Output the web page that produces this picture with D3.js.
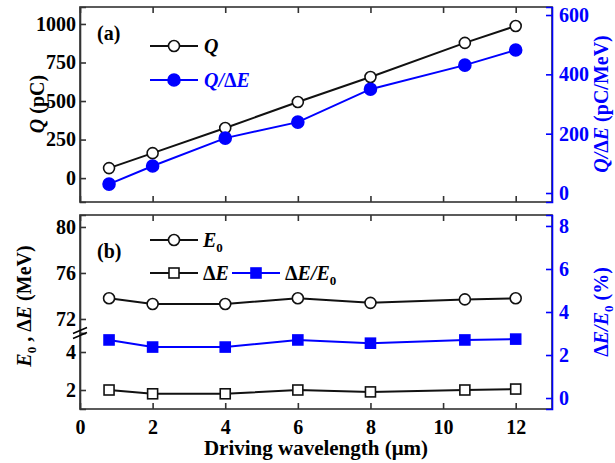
<!DOCTYPE html>
<html>
<head>
<meta charset="utf-8">
<script src="https://cdn.jsdelivr.net/npm/d3@7"></script>
<style>
    body { margin: 0; background: #fff; }
    svg { display: block; }
</style>
</head>
<body>
<div id="chart"></div>
<script>
// chart data
var wavelength = [0.8, 2, 4, 6, 8, 10.6, 12];
var charge = [65, 162, 325, 494, 656, 877, 987];
var chargePerSpread = [30, 91, 185, 239, 350, 431, 482];
var peakEnergy = [73.8, 73.3, 73.3, 73.8, 73.4, 73.7, 73.8];
var energySpread = [2.0, 1.8, 1.8, 2.0, 1.9, 2.0, 2.05];
var relativeSpread = [2.7, 2.37, 2.37, 2.7, 2.55, 2.7, 2.74];

var xTicks = [0, 2, 4, 6, 8, 10, 12];
var chargeTicks = [0, 250, 500, 750, 1000];
var chargePerSpreadTicks = [0, 200, 400, 600];
var energyUpperTicks = [72, 76, 80];
var energyLowerTicks = [2, 4];
var relativeTicks = [0, 2, 4, 6, 8];

var app = app || {};

app.Chart = (function () {
    'use strict';

    var colors = {
        black: "#111",
        frame: "#333",
        blue: "#0000ff"
    };

    var font = "'Liberation Serif', 'Times New Roman', serif";
    var fmt = d3.format("d");

    var init = function (baseElement) {
        var config = configure(d3.select(baseElement));
        topPanel(config);
        bottomPanel(config);
        labels(config);
        return config;
    };

    var configure = function (base) {
        var svg = base.append("svg")
            .attr("width", 615)
            .attr("height", 463);

        var m = { left: 80, right: 552 };
        var top = { y0: 7, y1: 202 };
        var bottom = { y0: 215, y1: 409, brk: 333 };

        var x = d3.scaleLinear().domain([0, 13]).range([m.left, m.right]);

        return {
            svg: svg,
            m: m,
            top: top,
            bottom: bottom,
            x: x,
            yQ: d3.scaleLinear().domain([-155, 1110]).range([top.y1, top.y0]),
            yQd: d3.scaleLinear().domain([-30.3, 627]).range([top.y1, top.y0]),
            yEUp: d3.scaleLinear().domain([70.78, 81.04]).range([bottom.brk, bottom.y0]),
            yELow: d3.scaleLinear().domain([1, 5]).range([bottom.y1, bottom.brk]),
            yRel: d3.scaleLinear().domain([-0.51, 8.51]).range([bottom.y1, bottom.y0])
        };
    };

    var styleAxis = function (g, color) {
        g.selectAll("path, line").attr("stroke", color).attr("stroke-width", 1.6);
        g.selectAll("text")
            .attr("fill", color)
            .style("font-family", font)
            .style("font-weight", "bold")
            .style("font-size", "20px");
    };

    var frameAxes = function (config, panel, withLabels) {
        var svg = config.svg, x = config.x;

        // top edge, ticks pointing down
        svg.append("g")
            .attr("transform", "translate(0," + panel.y0 + ")")
            .call(d3.axisTop(x).tickValues(xTicks).tickSize(-6).tickFormat(""))
            .call(styleAxis, colors.frame)
            .select(".domain").remove();

        // bottom edge, ticks pointing up
        var bottomAxis = svg.append("g")
            .attr("transform", "translate(0," + panel.y1 + ")")
            .call(d3.axisBottom(x).tickValues(xTicks).tickSize(-6).tickPadding(11)
                .tickFormat(withLabels ? fmt : ""))
            .call(styleAxis, colors.frame);
        bottomAxis.selectAll("text").attr("fill", "#000");
        bottomAxis.select(".domain").remove();

        // outline
        svg.append("rect")
            .attr("x", config.m.left)
            .attr("y", panel.y0)
            .attr("width", config.m.right - config.m.left)
            .attr("height", panel.y1 - panel.y0)
            .attr("fill", "none")
            .attr("stroke", colors.frame)
            .attr("stroke-width", 1.6);
    };

    var series = function (config, values, y, color, shape, filled) {
        var g = config.svg.append("g");
        var data = wavelength.map(function (w, i) {
            return { x: w, y: values[i] };
        });
        var line = d3.line()
            .x(function (d) { return config.x(d.x); })
            .y(function (d) { return y(d.y); });

        g.append("path")
            .datum(data)
            .attr("d", line)
            .attr("fill", "none")
            .attr("stroke", color)
            .attr("stroke-width", 2);

        marks(g, data.map(function (d) {
            return { cx: config.x(d.x), cy: y(d.y) };
        }), color, shape, filled);
    };

    var marks = function (g, points, color, shape, filled) {
        if (shape === "circle") {
            g.selectAll("circle.mark")
                .data(points)
                .enter()
                .append("circle")
                .attr("class", "mark")
                .attr("cx", function (d) { return d.cx; })
                .attr("cy", function (d) { return d.cy; })
                .attr("r", filled ? 6 : 5.5)
                .attr("fill", filled ? color : "#fff")
                .attr("stroke", color)
                .attr("stroke-width", 1.6);
        } else {
            var s = 10;
            g.selectAll("rect.mark")
                .data(points)
                .enter()
                .append("rect")
                .attr("class", "mark")
                .attr("x", function (d) { return d.cx - s / 2; })
                .attr("y", function (d) { return d.cy - s / 2; })
                .attr("width", s)
                .attr("height", s)
                .attr("fill", filled ? color : "#fff")
                .attr("stroke", color)
                .attr("stroke-width", 1.6);
        }
    };

    var legendItem = function (config, x0, x1, y, color, shape, filled) {
        var g = config.svg.append("g");
        g.append("line")
            .attr("x1", x0).attr("x2", x1)
            .attr("y1", y).attr("y2", y)
            .attr("stroke", color)
            .attr("stroke-width", 2);
        marks(g, [{ cx: (x0 + x1) / 2, cy: y }], color, shape, filled);
    };

    // text made of pieces: [string, italic, subscript, rise back]
    var richText = function (config, x, y, parts, color, anchor, rotate, size) {
        var t = config.svg.append("text")
            .attr("fill", color)
            .style("font-family", font)
            .style("font-weight", "bold")
            .style("font-size", (size || 20) + "px")
            .attr("text-anchor", anchor || "start");
        if (rotate) {
            t.attr("transform", "translate(" + x + "," + y + ") rotate(-90)");
        } else {
            t.attr("x", x).attr("y", y);
        }
        parts.forEach(function (p) {
            var span = t.append("tspan").text(p[0]);
            if (p[1]) { span.style("font-style", "italic"); }
            if (p[2]) {
                span.style("font-size", "13px").attr("dy", "5");
            } else if (p[3]) {
                span.attr("dy", "-5");
            }
        });
        return t;
    };

    var topPanel = function (config) {
        var svg = config.svg;
        frameAxes(config, config.top, false);

        svg.append("g")
            .attr("transform", "translate(" + config.m.left + ",0)")
            .call(d3.axisLeft(config.yQ).tickValues(chargeTicks).tickSize(-6).tickPadding(4).tickFormat(fmt))
            .call(styleAxis, "#000")
            .call(function (g) {
                g.select(".domain").attr("stroke", colors.frame);
                g.selectAll("line").attr("stroke", colors.frame);
            });

        svg.append("g")
            .attr("transform", "translate(" + config.m.right + ",0)")
            .call(d3.axisRight(config.yQd).tickValues(chargePerSpreadTicks).tickSize(-6).tickPadding(7).tickFormat(fmt))
            .call(styleAxis, colors.blue);

        series(config, charge, config.yQ, colors.black, "circle", false);
        series(config, chargePerSpread, config.yQd, colors.blue, "circle", true);

        legendItem(config, 150, 198, 46, colors.black, "circle", false);
        richText(config, 204, 53, [["Q", true]], "#000");
        legendItem(config, 150, 198, 80, colors.blue, "circle", true);
        richText(config, 204, 87, [["Q/", true], ["\u0394", false], ["E", true]], colors.blue);

        richText(config, 97, 40, [["(a)", false]], "#000");
    };

    var bottomPanel = function (config) {
        var svg = config.svg, b = config.bottom;
        frameAxes(config, b, true);

        // broken left axis: two pieces
        var up = svg.append("g")
            .attr("transform", "translate(" + config.m.left + ",0)")
            .call(d3.axisLeft(config.yEUp).tickValues(energyUpperTicks).tickSize(-6).tickPadding(4).tickFormat(fmt))
            .call(styleAxis, "#000");
        up.selectAll("line, path").attr("stroke", colors.frame);

        var low = svg.append("g")
            .attr("transform", "translate(" + config.m.left + ",0)")
            .call(d3.axisLeft(config.yELow).tickValues(energyLowerTicks).tickSize(-6).tickPadding(4).tickFormat(fmt))
            .call(styleAxis, "#000");
        low.selectAll("line, path").attr("stroke", colors.frame);

        // break marks
        [-2.5, 2.5].forEach(function (off) {
            svg.append("line")
                .attr("x1", config.m.left - 7).attr("y1", b.brk + off + 3)
                .attr("x2", config.m.left + 7).attr("y2", b.brk + off - 3)
                .attr("stroke", "#000")
                .attr("stroke-width", 1.6);
        });

        svg.append("g")
            .attr("transform", "translate(" + config.m.right + ",0)")
            .call(d3.axisRight(config.yRel).tickValues(relativeTicks).tickSize(-6).tickPadding(7).tickFormat(fmt))
            .call(styleAxis, colors.blue);

        series(config, peakEnergy, config.yEUp, colors.black, "circle", false);
        series(config, energySpread, config.yELow, colors.black, "square", false);
        series(config, relativeSpread, config.yRel, colors.blue, "square", true);

        legendItem(config, 150, 198, 240, colors.black, "circle", false);
        richText(config, 203, 247, [["E", true], ["0", false, true]], "#000");
        legendItem(config, 150, 198, 273, colors.black, "square", false);
        richText(config, 203, 280, [["\u0394", false], ["E", true]], "#000");
        legendItem(config, 232, 280, 273, colors.blue, "square", true);
        richText(config, 285, 280, [["\u0394", false], ["E/E", true], ["0", false, true]], "#000");

        richText(config, 97, 258, [["(b)", false]], "#000");
    };

    var labels = function (config) {
        richText(config, 44, 104, [["Q", true], [" (pC)", false]], "#000", "middle", true);
        richText(config, 608, 104, [["Q/", true], ["\u0394", false], ["E", true], [" (pC/MeV)", false]], colors.blue, "middle", true);
        richText(config, 31, 306, [["E", true], ["0", false, true], [" ,  ", false, false, true], ["\u0394", false], ["E", true], [" (MeV)", false]], "#000", "middle", true);
        richText(config, 608, 312, [["\u0394", false], ["E/E", true], ["0", false, true], [" (%)", false, false, true]], colors.blue, "middle", true);
        richText(config, 316, 455, [["Driving wavelength (\u03bcm)", false]], "#000", "middle", false, 21);
    };

    return {
        init: init
    };

}());

app.Chart.init("#chart");
</script>
</body>
</html>
